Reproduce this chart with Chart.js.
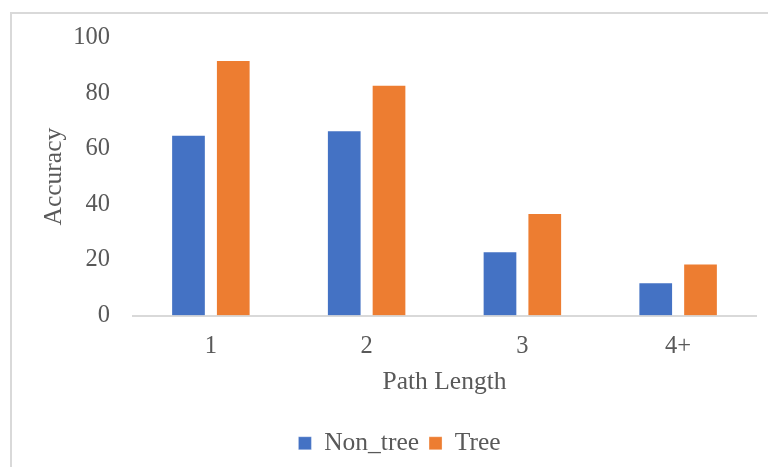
<!DOCTYPE html>
<html>
<head>
<meta charset="utf-8">
<script src="https://cdn.jsdelivr.net/npm/chart.js@4.4.0/dist/chart.umd.min.js"></script>
<style>
  html, body { margin: 0; padding: 0; background: #fff; }
  #frame { position: absolute; left: 10px; top: 12px; width: 780px; height: 480px;
           border-left: 2px solid #d9d9d9; border-top: 2px solid #d9d9d9; }
  #wrap { position: absolute; left: 0; top: 0; width: 768px; height: 467px; }
</style>
</head>
<body>
<div id="frame"></div>
<div id="wrap"><canvas id="c" width="768" height="467"></canvas></div>
<script>
const categories = ["1", "2", "3", "4+"];
const nonTree = [65.1, 66.7, 23.1, 12.0];
const tree = [92.0, 83.1, 36.9, 18.7];
const yTicks = [0, 20, 40, 60, 80, 100];

const FONT = "'Liberation Serif', 'Times New Roman', serif";
const TXT = "#595959";

new Chart(document.getElementById('c'), {
  type: 'bar',
  data: {
    labels: categories,
    datasets: [
      { label: 'Non_tree', data: nonTree, backgroundColor: '#4472C4',
        borderColor: 'rgba(255,255,255,0.3)', borderWidth: 1,
        categoryPercentage: 0.575, barPercentage: 0.775 },
      { label: 'Tree', data: tree, backgroundColor: '#ED7D31',
        borderColor: 'rgba(255,255,255,0.3)', borderWidth: 1,
        categoryPercentage: 0.575, barPercentage: 0.775 }
    ]
  },
  options: {
    responsive: false,
    animation: false,
    maintainAspectRatio: false,
    layout: { padding: { left: 43, right: 12, top: 36, bottom: 1 } },
    plugins: {
      tooltip: { enabled: false },
      legend: {
        position: 'bottom',
        labels: {
          font: { family: FONT, size: 25.5 },
          color: TXT,
          boxWidth: 13, boxHeight: 13,
          padding: 10
        }
      }
    },
    scales: {
      x: {
        grid: { display: false, drawTicks: false },
        border: { display: true, color: '#d9d9d9', width: 2 },
        ticks: { font: { family: FONT, size: 24.5 }, color: TXT, padding: 16 },
        title: { display: true, text: 'Path Length', color: TXT,
                 font: { family: FONT, size: 25.5 }, padding: { top: -10, bottom: 23 } }
      },
      y: {
        min: 0, max: 100,
        afterBuildTicks: (s) => { s.ticks = yTicks.map(v => ({ value: v })); },
        afterFit: (s) => { s.width = 90; },
        grid: { display: false, drawTicks: false },
        border: { display: false },
        ticks: { font: { family: FONT, size: 24.5 }, color: TXT, padding: 23 },
        title: { display: true, text: 'Accuracy', color: TXT,
                 font: { family: FONT, size: 25.5, lineHeight: 1 }, padding: { top: -1, bottom: 0 } }
      }
    }
  }
});
</script>
</body>
</html>
